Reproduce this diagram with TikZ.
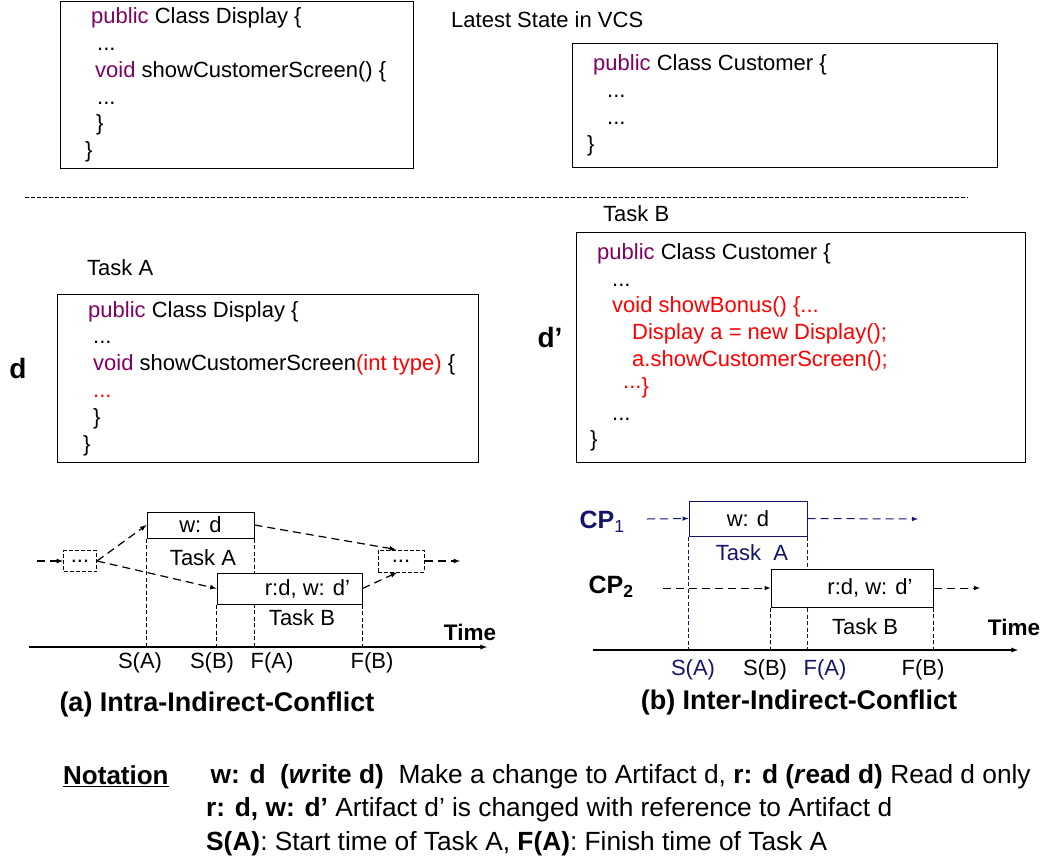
\documentclass[tikz,border=0pt]{standalone}
\usepackage{fontspec}
\setmainfont{Liberation Sans}
\usepackage{tikz}
\usetikzlibrary{arrows,backgrounds}
\definecolor{kwpurple}{RGB}{128,0,100}
\definecolor{chgred}{RGB}{255,0,0}
\definecolor{cpnavy}{RGB}{20,20,110}
\newcommand{\kw}[1]{\textcolor{kwpurple}{#1}}
\newcommand{\chg}[1]{\textcolor{chgred}{#1}}
\tikzset{
  box/.style={draw, line width=0.9pt, inner sep=0pt, anchor=north west},
  code/.style={align=left, inner sep=0pt, anchor=west, font=\fontsize{22}{26.8}\selectfont},
  txt/.style={inner sep=0pt, font=\fontsize{22}{26}\selectfont},
  captxt/.style={inner sep=0pt, font=\bfseries\fontsize{27}{30}\selectfont},
  cplbl/.style={inner sep=0pt, font=\bfseries\fontsize{25}{30}\selectfont},
  flow/.style={-latex, line width=1.2pt, dash pattern=on 8pt off 5pt},
  axis/.style={-latex, line width=1.3pt},
  guide/.style={line width=1pt, dash pattern=on 4pt off 2.5pt},
  dotbox/.style={draw, line width=1pt, dash pattern=on 4pt off 2pt, inner sep=0pt, font=\fontsize{22}{26}\selectfont},
  task/.style={draw, fill=white, line width=1pt, inner sep=0pt, font=\fontsize{22}{26}\selectfont}
}
\begin{document}
\begin{tikzpicture}[x=1pt, y=-1pt]
\useasboundingbox (0,0) rectangle (1046,863);
\node[box, minimum width=353pt, minimum height=167pt] (vcsdisp) at (60,1) {};
\node[code] (vcsdispcode) at ([xshift=25pt]vcsdisp.west) {%
\hspace*{6pt}\kw{public} Class Display \{\\%
\hspace*{12pt}...\\%
\hspace*{10pt}\kw{void} showCustomerScreen() \{\\%
\hspace*{12pt}...\\%
\hspace*{11pt}\}\\%
\}};
\node[txt, anchor=west] (vcslbl) at (451,20) {Latest State in VCS};
\node[box, minimum width=425pt, minimum height=124pt] (vcscust) at (572,43) {};
\node[code] (vcscustcode) at ([xshift=15pt]vcscust.west) {%
\hspace*{6pt}\kw{public} Class Customer \{\\%
\hspace*{20pt}...\\%
\hspace*{20pt}...\\%
\}};
\coordinate (sep0) at (25,197);
\coordinate (sep1) at (968,197);
\draw[line width=1pt, dash pattern=on 4pt off 2pt] (sep0) -- (sep1);
\node[txt, anchor=west] (talbl) at (87,268) {Task A};
\node[box, minimum width=421pt, minimum height=168pt] (tadisp) at (57,294) {};
\node[code] (tadispcode) at ([xshift=26pt]tadisp.west) {%
\hspace*{5pt}\kw{public} Class Display \{\\%
\hspace*{10pt}...\\%
\hspace*{10pt}\kw{void} showCustomerScreen\chg{(int type)} \{\\%
\hspace*{10pt}\chg{...}\\%
\hspace*{10pt}\}\\%
\}};
\node[inner sep=0pt, font=\bfseries\fontsize{28}{30}\selectfont] (dlbl) at (18,368) {d};
\node[txt, anchor=west] (tblbl) at (603,214) {Task B};
\node[box, minimum width=449pt, minimum height=230pt] (tbcust) at (576,232) {};
\node[code] (tbcustcode) at ([xshift=14pt]tbcust.west) {%
\hspace*{7pt}\kw{public} Class Customer \{\\%
\hspace*{22pt}...\\%
\hspace*{22pt}\chg{void showBonus() \{...}\\%
\hspace*{42pt}\chg{Display a = new Display();}\\%
\hspace*{42pt}\chg{a.showCustomerScreen();}\\%
\hspace*{33pt}\chg{\raisebox{5pt}{...}\}}\\%
\hspace*{22pt}...\\%
\}};
\node[inner sep=0pt, font=\bfseries\fontsize{28}{30}\selectfont] (dplbl) at (550,337) {d’};
\node[dotbox, minimum width=33pt, minimum height=21pt] (prevA) at (80,561) {...};
\node[task, minimum width=107pt, minimum height=26pt] (wdA) at (200.5,525) {w: d};
\node[task, minimum width=145pt, minimum height=31pt] (rwA) at (289.5,588.5) {\hspace*{36pt}r:d, w: d’};
\node[dotbox, minimum width=46pt, minimum height=22pt] (nextA) at (401,561) {...};
\coordinate (inA) at (37,561);
\coordinate (outA) at (460,561);
\coordinate (axA0) at (29,647);
\coordinate (axA1) at (487,647);
\draw[flow] (inA) -- (prevA.west);
\draw[flow] (prevA.east) -- (wdA.west);
\draw[flow] (prevA.east) -- (rwA.west);
\draw[flow] (wdA.east) -- ([xshift=-5pt]nextA.north);
\draw[flow] (rwA.east) -- ([xshift=-4pt]nextA.south);
\draw[flow] (nextA.east) -- (outA);
\draw[axis] (axA0) -- (axA1);
\begin{scope}[on background layer]
\draw[guide] (wdA.south west) -- (wdA.south west |- axA0);
\draw[guide] (wdA.south east) -- (wdA.south east |- axA0);
\draw[guide] (rwA.south west) -- (rwA.south west |- axA0);
\draw[guide] (rwA.south east) -- (rwA.south east |- axA0);
\end{scope}
\node[txt] (taA) at (203,558) {Task A};
\node[txt] (tbA) at (302,618) {Task B};
\node[inner sep=0pt, font=\bfseries\fontsize{22.5}{26}\selectfont] (timeA) at (470,632) {Time};
\node[txt] (saA) at (140,663) {S(A)};
\node[txt] (sbA) at (212,663) {S(B)};
\node[txt] (faA) at (272,663) {F(A)};
\node[txt] (fbA) at (372,663) {F(B)};
\node[captxt] (capA) at (217,705) {(a) Intra-Indirect-Conflict};
\node[cplbl, text=cpnavy] (cp1) at (602,522) {CP\textsubscript{\mdseries 1}};
\node[cplbl] (cp2) at (611,587) {CP\textsubscript{2}};
\node[task, draw=cpnavy, minimum width=118pt, minimum height=35pt] (wdB) at (748,518.5) {w: d};
\node[task, minimum width=162pt, minimum height=38pt] (rwB) at (852,588) {\hspace*{36pt}r:d, w: d’};
\coordinate (inB1) at (647,519);
\coordinate (outB1) at (918,519);
\coordinate (inB2) at (663,588);
\coordinate (outB2) at (980,588);
\coordinate (axB0) at (593,650);
\coordinate (axB1) at (1018,650);
\draw[flow, cpnavy, line width=1pt] (inB1) -- (wdB.west);
\draw[flow, cpnavy, line width=1pt] (wdB.east) -- (outB1);
\draw[flow, line width=1pt] (inB2) -- (rwB.west);
\draw[flow, line width=1pt] (rwB.east) -- (outB2);
\draw[axis] (axB0) -- (axB1);
\begin{scope}[on background layer]
\draw[guide, cpnavy] (wdB.south west) -- (wdB.south west |- axB0);
\draw[guide, cpnavy] (wdB.south east) -- (wdB.south east |- axB0);
\draw[guide] (rwB.south west) -- (rwB.south west |- axB0);
\draw[guide] (rwB.south east) -- (rwB.south east |- axB0);
\end{scope}
\node[txt, text=cpnavy] (taB) at (752,553) {Task\ \ A};
\node[txt] (tbB) at (865,627) {Task B};
\node[inner sep=0pt, font=\bfseries\fontsize{22.5}{26}\selectfont] (timeB) at (1014,627) {Time};
\node[txt, text=cpnavy] (saB) at (693,670) {S(A)};
\node[txt] (sbB) at (765,670) {S(B)};
\node[txt, text=cpnavy] (faB) at (825,670) {F(A)};
\node[txt] (fbB) at (923,670) {F(B)};
\node[captxt] (capB) at (799,703) {(b) Inter-Indirect-Conflict};
\node[inner sep=0pt, anchor=west, font=\bfseries\fontsize{26}{30}\selectfont] (notation) at (63,776) {\underline{Notation}};
\node[inner sep=0pt, anchor=west, align=left, font=\fontsize{26.3}{33.5}\selectfont] (notes) at (206,810) {%
\textbf{\,w: d\ \ (\textit{w}rite d)}\ \ Make a change to Artifact d, \textbf{r: d (\textit{r}ead d)} Read d only\\%
\textbf{r: d, w: d’} Artifact d’\ is changed with reference to Artifact d\\%
\textbf{S(A)}: Start time of Task A, \textbf{F(A)}: Finish time of Task A};
\end{tikzpicture}
\end{document}
